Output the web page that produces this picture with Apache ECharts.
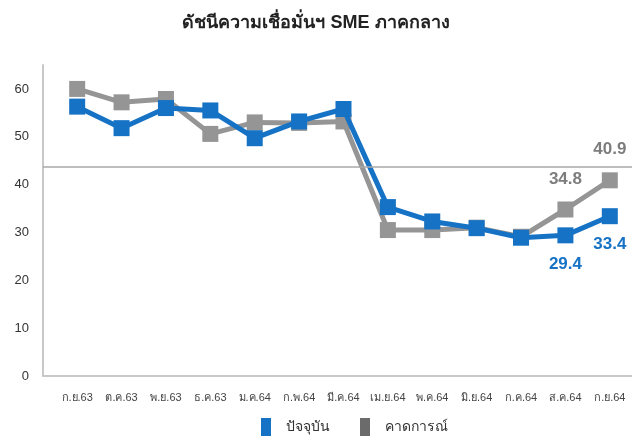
<!DOCTYPE html>
<html>
<head>
<meta charset="utf-8">
<script src="https://cdn.jsdelivr.net/npm/echarts@6/dist/echarts.min.js"></script>
<style>
  html, body { margin: 0; padding: 0; background: #fff; }
  #chart { width: 632px; height: 441px; }
</style>
</head>
<body>
<div id="chart"></div>
<script>
// เดือน (แกน x)
const months = ['ก.ย.63', 'ต.ค.63', 'พ.ย.63', 'ธ.ค.63', 'ม.ค.64', 'ก.พ.64', 'มี.ค.64',
  'เม.ย.64', 'พ.ค.64', 'มิ.ย.64', 'ก.ค.64', 'ส.ค.64', 'ก.ย.64'];
// ปัจจุบัน
const current = [56.3, 51.8, 56.0, 55.5, 49.7, 53.2, 55.8, 35.3, 32.3, 30.9, 28.9, 29.4, 33.4];
// คาดการณ์
const forecast = [60.0, 57.2, 57.9, 50.6, 53.0, 52.9, 53.2, 30.5, 30.5, 31.0, 29.1, 34.8, 40.9];
const yTicks = [0, 10, 20, 30, 40, 50, 60];
const refLine = 43.7;
// จุดที่แสดงตัวเลข
const currentLabeled = [11, 12];
const forecastLabeled = [11, 12];

const BLUE = '#1672c4';
const GREY = '#959595';

const chart = echarts.init(document.getElementById('chart'));

const toPairs = arr => arr.map((v, i) => [i, v]);

chart.setOption({
  animation: false,
  backgroundColor: '#fff',
  title: {
    text: 'ดัชนีความเชื่อมั่นฯ SME ภาคกลาง',
    left: 'center',
    top: 9,
    textStyle: { fontFamily: 'sans-serif', fontSize: 18, fontWeight: 'bold', color: '#222' }
  },
  legend: {
    bottom: 0,
    left: 256,
    icon: 'rect',
    itemWidth: 10,
    itemHeight: 18,
    itemGap: 30,
    textStyle: { fontFamily: 'sans-serif', fontSize: 14, color: '#333', padding: [0, 0, 0, 10] },
    data: [
      { name: 'ปัจจุบัน', itemStyle: { color: BLUE } },
      { name: 'คาดการณ์', itemStyle: { color: '#6b6b6b' } }
    ]
  },
  grid: { left: 43, right: 0, top: 65, bottom: 65, containLabel: false },
  xAxis: {
    type: 'value',
    min: -0.77,
    max: 12.5,
    axisLine: { show: true, lineStyle: { color: '#c8c8c8', width: 2 } },
    axisTick: { show: false },
    splitLine: { show: false },
    axisLabel: {
      customValues: months.map((m, i) => i),
      formatter: v => months[v] || '',
      fontFamily: 'sans-serif',
      fontSize: 11,
      color: '#444',
      margin: 16
    }
  },
  yAxis: {
    type: 'value',
    min: 0,
    max: 65,
    axisLine: { show: true, onZero: false, lineStyle: { color: '#c8c8c8', width: 2 } },
    axisTick: { show: false },
    splitLine: { show: false },
    axisLabel: {
      customValues: yTicks,
      fontFamily: 'sans-serif',
      fontSize: 13,
      color: '#333',
      margin: 14
    }
  },
  series: [
    {
      name: 'คาดการณ์',
      type: 'line',
      data: toPairs(forecast),
      symbol: 'rect',
      symbolSize: 16,
      lineStyle: { color: GREY, width: 5 },
      itemStyle: { color: GREY },
      label: {
        show: true,
        position: 'top',
        distance: 14,
        fontFamily: 'sans-serif',
        fontSize: 17,
        fontWeight: 'bold',
        color: '#7d7d7d',
        formatter: p => forecastLabeled.includes(p.dataIndex) ? forecast[p.dataIndex].toFixed(1) : ''
      },
      markLine: {
        silent: true,
        symbol: 'none',
        label: { show: false },
        lineStyle: { color: '#a8a8a8', width: 1.5, type: 'solid' },
        data: [{ yAxis: refLine }]
      },
      z: 2
    },
    {
      name: 'ปัจจุบัน',
      type: 'line',
      data: toPairs(current),
      symbol: 'rect',
      symbolSize: 16,
      lineStyle: { color: BLUE, width: 5 },
      itemStyle: { color: BLUE },
      label: {
        show: true,
        position: 'bottom',
        distance: 12,
        fontFamily: 'sans-serif',
        fontSize: 17,
        fontWeight: 'bold',
        color: BLUE,
        formatter: p => currentLabeled.includes(p.dataIndex) ? current[p.dataIndex].toFixed(1) : ''
      },
      z: 3
    }
  ]
});
</script>
</body>
</html>
